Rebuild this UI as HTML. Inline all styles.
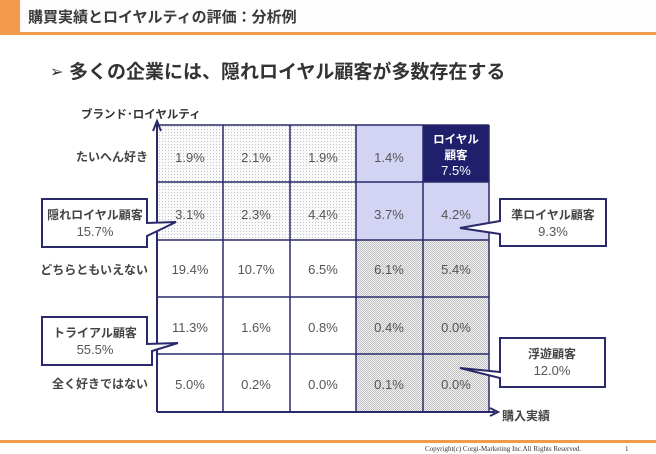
<!DOCTYPE html>
<html><head><meta charset="utf-8"><style>
html,body{margin:0;padding:0;background:#fff;}
svg{display:block;font-family:"Liberation Sans","Noto Sans CJK JP",sans-serif;}
</style></head><body>
<svg width="656" height="454" viewBox="0 0 656 454" xmlns="http://www.w3.org/2000/svg">
<defs>
<pattern id="sp" width="3" height="3" patternUnits="userSpaceOnUse"><rect width="3" height="3" fill="#fafafa"/><rect width="1" height="1" fill="#c4c4c4"/></pattern>
<pattern id="dp" width="2" height="2" patternUnits="userSpaceOnUse"><rect width="2" height="2" fill="#f0f0f0"/><rect width="1" height="1" fill="#c2c2c2"/><rect x="1" y="1" width="1" height="1" fill="#c2c2c2"/></pattern>
</defs>
<rect x="0" y="0" width="656" height="32" fill="#fdfdfd"/>
<rect x="0" y="0" width="20" height="33" fill="#f09a4a"/>
<rect x="0" y="32" width="656" height="3" fill="#f09a4a"/>
<text x="28" y="22" font-size="15" font-weight="bold" fill="#3a3a3a">購買実績とロイヤルティの評価：分析例</text>
<text x="50" y="77" font-size="16" fill="#333">➢</text>
<text x="69" y="78" font-size="19" font-weight="bold" fill="#333">多くの企業には、隠れロイヤル顧客が多数存在する</text>
<text x="81" y="118" font-size="11.5" font-weight="bold" fill="#333">ブランド･ロイヤルティ</text>

<rect x="157" y="125" width="199" height="115" fill="url(#sp)"/>
<rect x="356" y="125" width="133" height="115" fill="#d3d3f3"/>
<rect x="423" y="125" width="66" height="57" fill="#1f1f6b"/>
<rect x="356" y="240" width="133" height="172" fill="url(#dp)"/>
<g stroke="#2a2a6a" stroke-width="1.5" fill="none">
<line x1="157" y1="125" x2="489" y2="125"/>
<line x1="157" y1="182" x2="489" y2="182"/>
<line x1="157" y1="240" x2="489" y2="240"/>
<line x1="157" y1="297" x2="489" y2="297"/>
<line x1="157" y1="354" x2="489" y2="354"/>
<line x1="223" y1="125" x2="223" y2="412"/>
<line x1="290" y1="125" x2="290" y2="412"/>
<line x1="356" y1="125" x2="356" y2="412"/>
<line x1="423" y1="125" x2="423" y2="412"/>
<line x1="489" y1="125" x2="489" y2="412"/>
<line x1="157" y1="412" x2="495" y2="412" stroke-width="2"/>
<line x1="157" y1="412" x2="157" y2="122" stroke-width="2"/>
</g>
<path d="M153,131 L157,121 L161,131" stroke="#2a2a6a" stroke-width="2" fill="none"/>
<path d="M490,408 L498,412 L490,416" stroke="#2a2a6a" stroke-width="2" fill="none"/>

<g font-size="13" fill="#555" text-anchor="middle">
<text x="190" y="162">1.9%</text><text x="256" y="162">2.1%</text><text x="323" y="162">1.9%</text><text x="389" y="162">1.4%</text>
<text x="190" y="219">3.1%</text><text x="256" y="219">2.3%</text><text x="323" y="219">4.4%</text><text x="389" y="219">3.7%</text><text x="456" y="219">4.2%</text>
<text x="190" y="274">19.4%</text><text x="256" y="274">10.7%</text><text x="323" y="274">6.5%</text><text x="389" y="274">6.1%</text><text x="456" y="274">5.4%</text>
<text x="190" y="332">11.3%</text><text x="256" y="332">1.6%</text><text x="323" y="332">0.8%</text><text x="389" y="332">0.4%</text><text x="456" y="332">0.0%</text>
<text x="190" y="389">5.0%</text><text x="256" y="389">0.2%</text><text x="323" y="389">0.0%</text><text x="389" y="389">0.1%</text><text x="456" y="389">0.0%</text>
</g>
<g fill="#fff" text-anchor="middle" font-weight="bold" font-size="11.5">
<text x="456" y="143">ロイヤル</text><text x="456" y="159">顧客</text>
<text x="456" y="175" font-weight="normal" font-size="13">7.5%</text>
</g>
<g font-size="12" font-weight="bold" fill="#444" text-anchor="end">
<text x="148" y="161">たいへん好き</text>
<text x="148" y="274">どちらともいえない</text>
<text x="148" y="388">全く好きではない</text>
</g>
<text x="502" y="420" font-size="12" font-weight="bold" fill="#444">購入実績</text>

<g stroke="#2a2a6a" stroke-width="2" fill="#fff">
<path d="M42,199 H147 V223 L176,222 L147,236 V247 H42 Z"/>
<path d="M500,199 H606 V246 H500 V234 L460,228 L500,221 Z"/>
<path d="M42,317 H147 V344 L178,343 L152,351 V365 H42 Z"/>
<path d="M500,338 H605 V387 H500 V378 L460,368 L500,372 Z"/>
</g>
<g font-size="12" fill="#444" text-anchor="middle">
<text x="95" y="219" font-weight="bold">隠れロイヤル顧客</text><text x="95" y="236" font-size="13" fill="#555">15.7%</text>
<text x="553" y="219" font-weight="bold">準ロイヤル顧客</text><text x="553" y="236" font-size="13" fill="#555">9.3%</text>
<text x="95" y="337" font-weight="bold">トライアル顧客</text><text x="95" y="354" font-size="13" fill="#555">55.5%</text>
<text x="552" y="358" font-weight="bold">浮遊顧客</text><text x="552" y="375" font-size="13" fill="#555">12.0%</text>
</g>

<rect x="0" y="440" width="656" height="3" fill="#f09a4a"/>
<text x="425" y="451" font-size="7" font-family="Liberation Serif,serif" fill="#333">Copyright(c) Corgi-Marketing Inc.All Rights Reserved.</text>
<text x="625" y="451" font-size="7" font-family="Liberation Serif,serif" fill="#333">1</text>
</svg>
</body></html>
